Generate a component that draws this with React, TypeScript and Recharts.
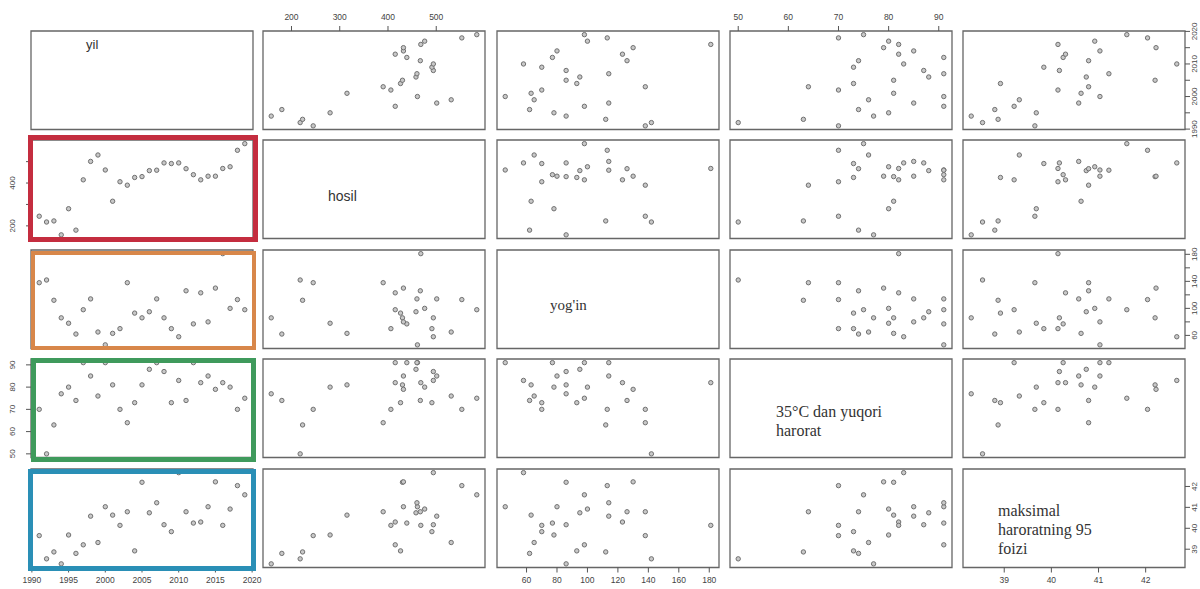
import React from 'react';
import { ScatterChart, Scatter, XAxis, YAxis, ReferenceArea } from 'recharts';

// ---- data (one value per year) ----
const years = [1991, 1992, 1993, 1994, 1995, 1996, 1997, 1998, 1999, 2000, 2001, 2002, 2003, 2004, 2005, 2006, 2007, 2008, 2009, 2010, 2011, 2012, 2013, 2014, 2015, 2016, 2017, 2018, 2019];
const hosil = [245, 218, 223, 158, 280, 180, 415, 501, 531, 461, 315, 406, 390, 426, 430, 458, 460, 494, 491, 494, 467, 439, 415, 432, 432, 468, 476, 553, 584];
const yogin = [138, 142, 112, 86, 78, 62, 98, 114, 65, 46, 63, 70, 138, 93, 86, 95, 114, 86, 70, 58, 126, 77, 123, 80, 130, 181, 100, 113, 98];
const harorat35 = [70, 50, 63, 77, 80, 74, 91, 85, 76, 91, 81, 70, 64, 73, 81, 88, 91, 87, 73, 83, 74, 91, 82, 85, 79, 82, 80, 70, 75];
const maks95 = [39.65, 38.54, 38.87, 38.3, 39.68, 38.8, 39.21, 40.58, 39.32, 41.03, 40.63, 40.14, 40.79, 38.92, 42.2, 40.74, 41.22, 40.17, 39.84, 42.66, 40.79, 40.25, 40.3, 41.03, 42.22, 40.14, 40.92, 42.04, 41.6];

// ---- tick labels ----
const yilTicks = [1990, 1995, 2000, 2005, 2010, 2015, 2020];
const hosilTicks = [200, 300, 400, 500];
const yoginTicks = [60, 80, 100, 120, 140, 160, 180];
const harorat35Ticks = [50, 60, 70, 80, 90];
const maks95Ticks = [39, 40, 41, 42];

const yilSideLabels = [1990, 2000, 2010, 2020];
const hosilSideLabels = [200, 400];
const yoginSideLabels = [60, 100, 140, 180];

const VARS = [
  { values: years, ticks: yilTicks, side: yilSideLabels },
  { values: hosil, ticks: hosilTicks, side: hosilSideLabels },
  { values: yogin, ticks: yoginTicks, side: yoginSideLabels },
  { values: harorat35, ticks: harorat35Ticks, side: harorat35Ticks },
  { values: maks95, ticks: maks95Ticks, side: maks95Ticks },
];

const COL_X = [31, 263, 497, 730, 963];
const ROW_Y = [30.5, 140, 250, 359, 469];
const PANEL_W = 222;
const PANEL_H = 98.5;
const PAD = 40;
const AX = 30;
const FONT = 'Liberation Sans, Arial, sans-serif';

function domainOf(v: number[]): [number, number] {
  const lo = Math.min(...v);
  const hi = Math.max(...v);
  const r = hi - lo;
  return [lo - 0.04 * r, hi + 0.04 * r];
}

function makeYTick(side: 'left' | 'right', show: number[]) {
  return (props: any) => {
    const { x, y, payload } = props;
    if (!show.includes(payload.value)) return <g />;
    const bx = side === 'left' ? x - 8.5 : x + 5.5;
    return (
      <text x={bx} y={y} transform={`rotate(-90 ${bx} ${y})`} textAnchor="middle" fontSize={8} fill="#444" fontFamily={FONT}>
        {payload.value}
      </text>
    );
  };
}

const dot = (props: any) => (
  <circle cx={props.cx} cy={props.cy} r={2.2} fill="#c8c8c8" stroke="#707070" strokeWidth={1} />
);

function Panel({ i, j }: { i: number; j: number }) {
  const xv = VARS[j];
  const yv = VARS[i];
  const xd = domainOf(xv.values);
  const yd = domainOf(yv.values);
  const showTop = i === 0 && j % 2 === 1;
  const showBottom = i === 4 && j % 2 === 0;
  const showLeft = j === 0 && i % 2 === 1;
  const showRight = j === 4 && i % 2 === 0;
  const margin = {
    top: PAD - (showTop ? AX : 0),
    bottom: PAD - (showBottom ? AX : 0),
    left: PAD - (showLeft ? AX : 0),
    right: PAD - (showRight ? AX : 0),
  };
  const data = i === j ? [] : xv.values.map((x, k) => ({ x, y: yv.values[k] }));
  return (
    <div style={{ position: 'absolute', left: COL_X[j] - PAD, top: ROW_Y[i] - PAD }}>
      <ScatterChart width={PANEL_W + 2 * PAD} height={PANEL_H + 2 * PAD} margin={margin}>
        <XAxis
          type="number"
          dataKey="x"
          domain={xd}
          allowDataOverflow
          ticks={xv.ticks}
          interval={0}
          hide={!(showTop || showBottom)}
          orientation={showTop ? 'top' : 'bottom'}
          height={AX}
          axisLine={false}
          tickLine={{ stroke: '#555' }}
          tickSize={5}
          tickMargin={showTop ? 6 : 4}
          tick={{ fontSize: 8.5, fill: '#444', fontFamily: FONT }}
        />
        <YAxis
          type="number"
          dataKey="y"
          domain={yd}
          allowDataOverflow
          ticks={yv.ticks}
          interval={0}
          hide={!(showLeft || showRight)}
          orientation={showLeft ? 'left' : 'right'}
          width={AX}
          axisLine={false}
          tickLine={{ stroke: '#555' }}
          tickSize={5}
          tickMargin={2}
          tick={makeYTick(showLeft ? 'left' : 'right', yv.side)}
        />
        <ReferenceArea x1={xd[0]} x2={xd[1]} y1={yd[0]} y2={yd[1]} fill="none" stroke="#666" strokeWidth={1.3} />
        {data.length > 0 && <Scatter data={data} isAnimationActive={false} shape={dot} />}
      </ScatterChart>
    </div>
  );
}

const serif = 'Liberation Serif, Times New Roman, serif';

export default function App() {
  const cells: React.ReactNode[] = [];
  for (let i = 0; i < 5; i++) {
    for (let j = 0; j < 5; j++) {
      cells.push(<Panel key={`${i}-${j}`} i={i} j={j} />);
    }
  }
  const box = (left: number, top: number, width: number, height: number, color: string, bw: number) => ({
    position: 'absolute' as const,
    left,
    top,
    width,
    height,
    border: `${bw}px solid ${color}`,
    boxSizing: 'border-box' as const,
  });
  return (
    <div style={{ position: 'absolute', left: 0, top: 0, width: 1200, height: 589, overflow: 'hidden', background: '#fff' }}>
      {cells}
      <div style={{ position: 'absolute', left: 86, top: 37, fontFamily: FONT, fontSize: 13, color: '#333' }}>yil</div>
      <div style={{ position: 'absolute', left: 328, top: 188, fontFamily: FONT, fontSize: 14, color: '#333' }}>hosil</div>
      <div style={{ position: 'absolute', left: 550, top: 297, fontFamily: serif, fontSize: 15, color: '#333' }}>yog'in</div>
      <div style={{ position: 'absolute', left: 776, top: 402, fontFamily: serif, fontSize: 16, lineHeight: '19px', color: '#333' }}>
        35°C dan yuqori
        <br />
        harorat
      </div>
      <div style={{ position: 'absolute', left: 998, top: 501, fontFamily: serif, fontSize: 16, lineHeight: '19px', color: '#333' }}>
        maksimal
        <br />
        haroratning 95
        <br />
        foizi
      </div>
      <div style={box(28, 135, 230, 107, '#c42d3f', 5)} />
      <div style={box(31, 251, 225, 99, '#d8874a', 4)} />
      <div style={box(31, 358, 225, 104, '#3f9a5c', 5)} />
      <div style={box(28, 469, 228, 102, '#2a8fb6', 5)} />
    </div>
  );
}
